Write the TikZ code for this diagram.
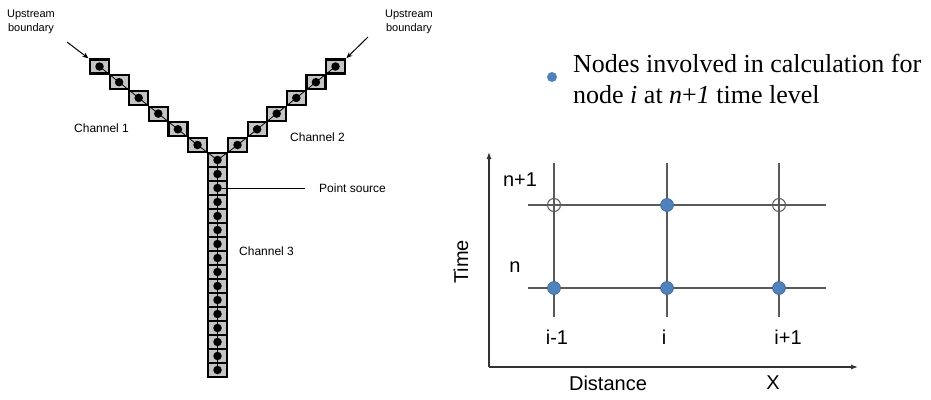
\documentclass[tikz,border=0pt]{standalone}
\usepackage{fontspec}
\setmainfont{Liberation Sans}
\newfontfamily\legendfont{Liberation Serif}
\usetikzlibrary{arrows.meta}

\definecolor{cellgray}{HTML}{C4C4C4}
\definecolor{gridgray}{HTML}{5A5A5A}
\definecolor{nodeblue}{HTML}{4F81BD}
\definecolor{nodeedge}{HTML}{3C6AA0}

\begin{document}
\begin{tikzpicture}[x=1pt,y=-1pt,
  cell/.style={draw=black, line width=2.2pt, fill=cellgray,
    minimum width=19pt, minimum height=14pt, inner sep=0pt, outer sep=0pt},
  dot/.style={circle, fill=black, minimum size=8.5pt, inner sep=0pt},
  chan/.style={black, line width=0.8pt},
  pointer/.style={black, line width=1pt, -{Stealth[length=6pt,width=5pt]}},
  smalllabel/.style={font=\fontsize{11}{14}\selectfont, align=center, inner sep=0pt},
  chanlabel/.style={font=\fontsize{12}{14}\selectfont, anchor=west, inner sep=0pt},
  gridline/.style={gridgray, line width=1.2pt},
  axisline/.style={black!80, line width=1.2pt, -{Latex[length=7pt,width=5pt]}},
  fullnode/.style={circle, fill=nodeblue, draw=nodeedge, line width=0.6pt, minimum size=13pt, inner sep=0pt},
  emptynode/.style={circle, draw=gridgray, line width=1pt, minimum size=13pt, inner sep=0pt},
  gridlabel/.style={font=\fontsize{20}{24}\selectfont, inner sep=0pt},
  legendtext/.style={font=\legendfont\fontsize{26}{31}\selectfont, anchor=base west, inner sep=0pt}
]
\useasboundingbox (0,0) rectangle (931,399);

% ---------- channel network ----------
% channel 1 (down to the right) and channel 2 (down to the left)
\foreach \k in {1,...,6} {
  \node[cell] (a\k) at ({99.5+19.6*(\k-1)}, {66.5+15.7*(\k-1)}) {};
  \node[cell] (b\k) at ({335.5-19.6*(\k-1)}, {66.5+15.7*(\k-1)}) {};
}
% channel 3 (vertical), c0 is the junction cell
\foreach \j in {0,...,15} {
  \node[cell] (c\j) at (217.5, {160+14*\j}) {};
}
% computational nodes
\foreach \k in {1,...,6} {
  \node[dot] (da\k) at (a\k.center) {};
  \node[dot] (db\k) at (b\k.center) {};
}
\foreach \j in {0,...,15} {
  \node[dot] (dc\j) at (c\j.center) {};
}
% channel centre lines
\draw[chan] (da1.center) -- (da2.center) -- (da3.center) -- (da4.center)
  -- (da5.center) -- (da6.center) -- (dc0.center);
\draw[chan] (db1.center) -- (db2.center) -- (db3.center) -- (db4.center)
  -- (db5.center) -- (db6.center) -- (dc0.center);
\draw[chan] (dc0.center) -- (dc15.center);

% upstream boundaries
\node[smalllabel] (up1) at (31,22) {Upstream\\boundary};
\node[smalllabel] (up2) at (409,22) {Upstream\\boundary};
\coordinate (up1tail) at (67,42);
\coordinate (up2tail) at (368,37);
\draw[pointer, shorten >=2pt] (up1tail) -- (a1.north west);
\draw[pointer, shorten >=2pt] (up2tail) -- (b1.north east);

% channel labels
\node[chanlabel] (ch1) at (74,128) {Channel 1};
\node[chanlabel] (ch2) at (290,137) {Channel 2};
\node[chanlabel] (ch3) at (239,251) {Channel 3};
\node[chanlabel] (ps) at (319,188) {Point source};
\draw[black, line width=1pt] (dc2.east) -- (305,188) coordinate (psend);

% ---------- legend ----------
\node[circle, fill=nodeblue, minimum size=10pt, inner sep=0pt] (legdot) at (552,77) {};
\node[legendtext] (leg1) at (573,72) {Nodes involved in calculation for};
\node[legendtext] (leg2) at (573,103) {node \textit{i} at \textit{n}+\textit{1} time level};

% ---------- finite difference stencil ----------
\coordinate (origin) at (489,367);
\coordinate (ytip) at (489,152);
\coordinate (xtip) at (858,367);
\draw[axisline] (origin) -- (ytip);
\draw[axisline] (origin) -- (xtip);

\foreach \x in {554,667,779} {
  \draw[gridline] (\x,163) -- (\x,317);
}
\foreach \y in {205,288} {
  \draw[gridline] (528,\y) -- (826,\y);
}

\node[emptynode] (p11) at (554,205) {};
\node[fullnode]  (p12) at (667,205) {};
\node[emptynode] (p13) at (779,205) {};
\node[fullnode]  (p01) at (554,288) {};
\node[fullnode]  (p02) at (667,288) {};
\node[fullnode]  (p03) at (779,288) {};

\node[gridlabel] (lnp) at (520,180) {n+1};
\node[gridlabel] (ln) at (515,267) {n};
\node[gridlabel, rotate=90] (ltime) at (461,262) {Time};
\node[gridlabel] (lim) at (557,337) {i-1};
\node[gridlabel] (li) at (664,337) {i};
\node[gridlabel] (lip) at (788,337) {i+1};
\node[gridlabel] (ldist) at (608,383) {Distance};
\node[gridlabel] (lx) at (773,383) {X};
\end{tikzpicture}
\end{document}
